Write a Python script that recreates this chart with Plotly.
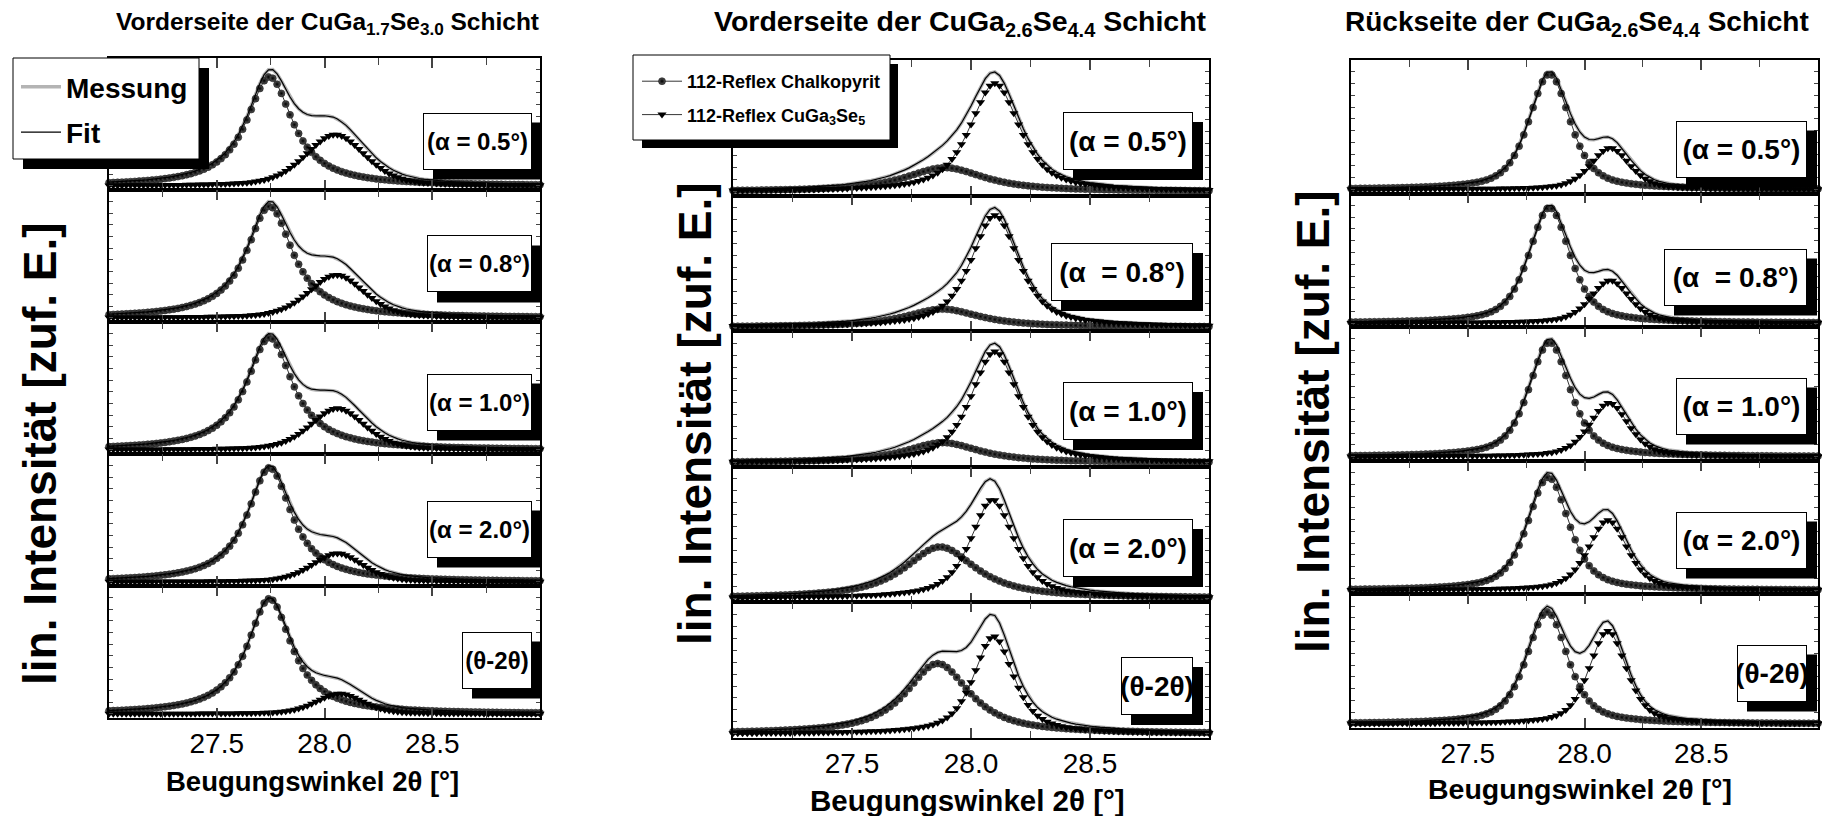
import numpy as np
import plotly.graph_objects as go

W, H = 1822, 816

# ---------------- data ----------------
two_theta = np.round(np.arange(27.0, 29.0001, 0.02), 3)   # measurement grid [deg]

panel_titles = [
    "Vorderseite der CuGa<sub>1.7</sub>Se<sub>3.0</sub> Schicht",
    "Vorderseite der CuGa<sub>2.6</sub>Se<sub>4.4</sub> Schicht",
    "Rückseite der CuGa<sub>2.6</sub>Se<sub>4.4</sub> Schicht",
]
row_labels = [
    ["(α = 0.5°)", "(α = 0.8°)", "(α = 1.0°)", "(α = 2.0°)", "(θ-2θ)"],
    ["(α = 0.5°)", "(α  = 0.8°)", "(α = 1.0°)", "(α = 2.0°)", "(θ-2θ)"],
    ["(α = 0.5°)", "(α  = 0.8°)", "(α = 1.0°)", "(α = 2.0°)", "(θ-2θ)"],
]
x_ticks = [27.5, 28.0, 28.5]
x_tick_text = ["27.5", "28.0", "28.5"]
x_minor = [27.25, 27.75, 28.25, 28.75]

# fitted peak parameters per panel and row (alpha 0.5, 0.8, 1.0, 2.0, theta-2theta)
# 112-Reflex Chalkopyrit
chalk_pos = [[27.745, 27.745, 27.745, 27.745, 27.745],
             [27.89, 27.88, 27.88, 27.87, 27.86],
             [27.85, 27.85, 27.85, 27.845, 27.84]]
chalk_amp = [[1.0, 1.0, 1.0, 1.0, 1.0],
             [0.22, 0.16, 0.18, 0.52, 0.72],
             [1.0, 1.0, 1.0, 1.0, 1.0]]
chalk_fwhm = [[0.26, 0.26, 0.26, 0.25, 0.25],
              [0.40, 0.38, 0.38, 0.36, 0.32],
              [0.21, 0.21, 0.21, 0.21, 0.21]]
chalk_eta = [1.0, 0.9, 0.6]
# 112-Reflex CuGa3Se5
cgs_pos = [[28.05, 28.055, 28.06, 28.06, 28.07],
           [28.10, 28.10, 28.10, 28.09, 28.095],
           [28.11, 28.11, 28.105, 28.10, 28.10]]
cgs_amp = [[0.47, 0.385, 0.37, 0.25, 0.175],
           [1.0, 1.0, 1.0, 1.0, 1.0],
           [0.36, 0.37, 0.47, 0.62, 0.83]]
cgs_fwhm = [[0.33, 0.31, 0.30, 0.28, 0.26],
            [0.25, 0.24, 0.24, 0.22, 0.20],
            [0.20, 0.20, 0.20, 0.20, 0.19]]
cgs_eta = [0.4, 0.7, 0.5]

# ---------------- layout geometry (pixels) ----------------
panels = [dict(l=109, r=540, t=58, b=718),
          dict(l=733, r=1209, t=60, b=738),
          dict(l=1351, r=1818, t=60, b=728)]
title_cx = [327, 960, 1577]
title_fs = [24.5, 28.5, 28]
xtitle_pos = [(312, 781), (967, 800), (1580, 789)]
xtitle_fs = [27.5, 29.5, 28.5]
ytitle_pos = [(40, 454), (695, 414), (1313, 422)]
# label boxes: right edge, centre y, width, height, font size
label_right = [532, 1193, 1807]
label_cy = [[141, 264, 402, 529, 660],
            [141, 272, 411, 548, 686],
            [149, 277, 406, 540, 673]]
label_w = [[109, 105, 105, 105, 70],
           [130, 142, 130, 130, 72],
           [131, 143, 131, 131, 70]]
label_h = [57, 58, 57]
label_fs = [24, 28, 28]
SHADOW = 10


def fx(px):
    return px / W


def fy(py):
    return 1 - py / H


FONT = "Liberation Sans Narrow, Arial Narrow, Liberation Sans, Arial, sans-serif"


def pvoigt(x, c, a, w, eta):
    d = (x - c) / (w / 2.0)
    return a * (eta / (1 + d ** 2) + (1 - eta) * np.exp(-np.log(2) * d ** 2))


def box(x0, y0, x1, y1, fill, lw):
    return dict(type="rect", xref="paper", yref="paper", x0=fx(x0), x1=fx(x1),
                y0=fy(y1), y1=fy(y0), fillcolor=fill,
                line=dict(width=lw, color="black"), layer="above")


fig = go.Figure()
layout = dict(width=W, height=H, margin=dict(l=0, r=0, t=0, b=0),
              paper_bgcolor="white", plot_bgcolor="white", showlegend=True,
              font=dict(family=FONT, color="black"))
annotations = []
shapes = []

for p, g in enumerate(panels):
    h = (g["b"] - g["t"]) / 5.0
    for r in range(5):
        k = p * 5 + r + 1
        xa = "x" if k == 1 else f"x{k}"
        ya = "y" if k == 1 else f"y{k}"
        top = g["t"] + r * h
        bot = top + h
        layout[f"xaxis{k}" if k > 1 else "xaxis"] = dict(
            domain=[fx(g["l"]), fx(g["r"])], anchor=ya, range=[27.0, 29.0],
            tickmode="array", tickvals=x_ticks,
            ticktext=x_tick_text if r == 4 else [""] * 3,
            showticklabels=(r == 4), ticks="inside", ticklen=10, tickwidth=1.5,
            mirror="ticks", showline=True, linecolor="black", linewidth=1.5,
            showgrid=False, zeroline=False,
            tickfont=dict(size=28, family=FONT),
            minor=dict(tickmode="array", tickvals=x_minor, ticks="inside", ticklen=7,
                       tickwidth=1.2, showgrid=False),
        )
        layout[f"yaxis{k}" if k > 1 else "yaxis"] = dict(
            domain=[fy(bot), fy(top)], anchor=xa, range=[-0.035, 1.10],
            showticklabels=False, ticks="inside", ticklen=4, tickwidth=1, dtick=0.1,
            mirror="ticks", showline=True, linecolor="black", linewidth=1.5,
            showgrid=False, zeroline=False,
        )
        c1 = pvoigt(two_theta, chalk_pos[p][r], chalk_amp[p][r], chalk_fwhm[p][r], chalk_eta[p])
        c2 = pvoigt(two_theta, cgs_pos[p][r], cgs_amp[p][r], cgs_fwhm[p][r], cgs_eta[p])
        total = c1 + c2
        norm = total.max()
        c1, c2, total = c1 / norm, c2 / norm, total / norm
        first = (p == 0 and r == 0)
        first2 = (p == 1 and r == 0)
        fig.add_trace(go.Scatter(x=two_theta, y=total, mode="lines", xaxis=xa, yaxis=ya,
                                 line=dict(color="#b4b4b4", width=3.5), name="<b>Messung</b>",
                                 legend="legend", legendgroup="mess", showlegend=first))
        fig.add_trace(go.Scatter(x=two_theta, y=c1, mode="lines+markers", xaxis=xa, yaxis=ya,
                                 line=dict(color="black", width=0.8),
                                 marker=dict(symbol="circle", size=7, color="#5a5a5a",
                                             gradient=dict(type="radial", color="#000000"),
                                             line=dict(color="black", width=0.5)),
                                 cliponaxis=False,
                                 name="<b>112-Reflex Chalkopyrit</b>", legend="legend2",
                                 legendgroup="chalk", showlegend=first2))
        fig.add_trace(go.Scatter(x=two_theta, y=c2, mode="lines+markers", xaxis=xa, yaxis=ya,
                                 line=dict(color="black", width=0.8),
                                 marker=dict(symbol="triangle-down", size=8, color="black"),
                                 cliponaxis=False,
                                 name="<b>112-Reflex CuGa<sub>3</sub>Se<sub>5</sub></b>",
                                 legend="legend2", legendgroup="cgs", showlegend=first2))
        fig.add_trace(go.Scatter(x=two_theta, y=total, mode="lines", xaxis=xa, yaxis=ya,
                                 line=dict(color="black", width=1.2), name="<b>Fit</b>",
                                 legend="legend", legendgroup="fit", showlegend=first))

        # condition label: white framed box with a black drop shadow (shape)
        xr = label_right[p]
        cy = label_cy[p][r]
        bw = label_w[p][r]
        bh = label_h[p]
        shapes.append(box(xr - bw + SHADOW, cy - bh / 2 + SHADOW, xr + SHADOW,
                          cy + bh / 2 + SHADOW, "black", 0))
        annotations.append(dict(
            text=f"<b>{row_labels[p][r]}</b>", xref="paper", yref="paper",
            x=fx(xr), y=fy(cy), xanchor="right", yanchor="middle", showarrow=False,
            width=bw - 2, height=bh - 2, align="center", valign="middle",
            font=dict(size=label_fs[p], family=FONT, color="black"),
            bgcolor="white", bordercolor="black", borderwidth=1, borderpad=0))

    # panel title
    annotations.append(dict(text=f"<b>{panel_titles[p]}</b>", xref="paper", yref="paper",
                            x=fx(title_cx[p]), y=fy(23), xanchor="center",
                            yanchor="middle", showarrow=False,
                            font=dict(size=title_fs[p], family=FONT)))
    # axis titles
    annotations.append(dict(text="<b>Beugungswinkel 2θ [°]</b>", xref="paper", yref="paper",
                            x=fx(xtitle_pos[p][0]), y=fy(xtitle_pos[p][1]),
                            xanchor="center", yanchor="middle",
                            showarrow=False, font=dict(size=xtitle_fs[p], family=FONT)))
    annotations.append(dict(text="<b>lin. Intensität [zuf. E.]</b>", xref="paper", yref="paper",
                            x=fx(ytitle_pos[p][0]), y=fy(ytitle_pos[p][1]),
                            xanchor="center", yanchor="middle",
                            textangle=-90, showarrow=False, font=dict(size=46, family=FONT)))


# legend frames with drop shadows (drawn as shapes, legend text on top)
shapes.append(box(23, 68, 209, 169, "black", 0))
shapes.append(box(13, 58, 199, 159, "white", 1))
shapes.append(box(642, 64, 898, 148, "black", 0))
shapes.append(box(633, 55, 890, 140, "white", 1))

layout["annotations"] = annotations
layout["shapes"] = shapes
layout["legend"] = dict(x=fx(16), y=fy(62), xanchor="left", yanchor="top",
                        bgcolor="rgba(0,0,0,0)", borderwidth=0,
                        font=dict(size=28, family=FONT), tracegroupgap=6,
                        traceorder="grouped", itemwidth=40)
layout["legend2"] = dict(x=fx(637), y=fy(63), xanchor="left", yanchor="top",
                         bgcolor="rgba(0,0,0,0)", borderwidth=0,
                         font=dict(size=18, family=FONT), tracegroupgap=7,
                         traceorder="grouped", itemwidth=40)
fig.update_layout(**layout)
fig.write_html("out.html")
